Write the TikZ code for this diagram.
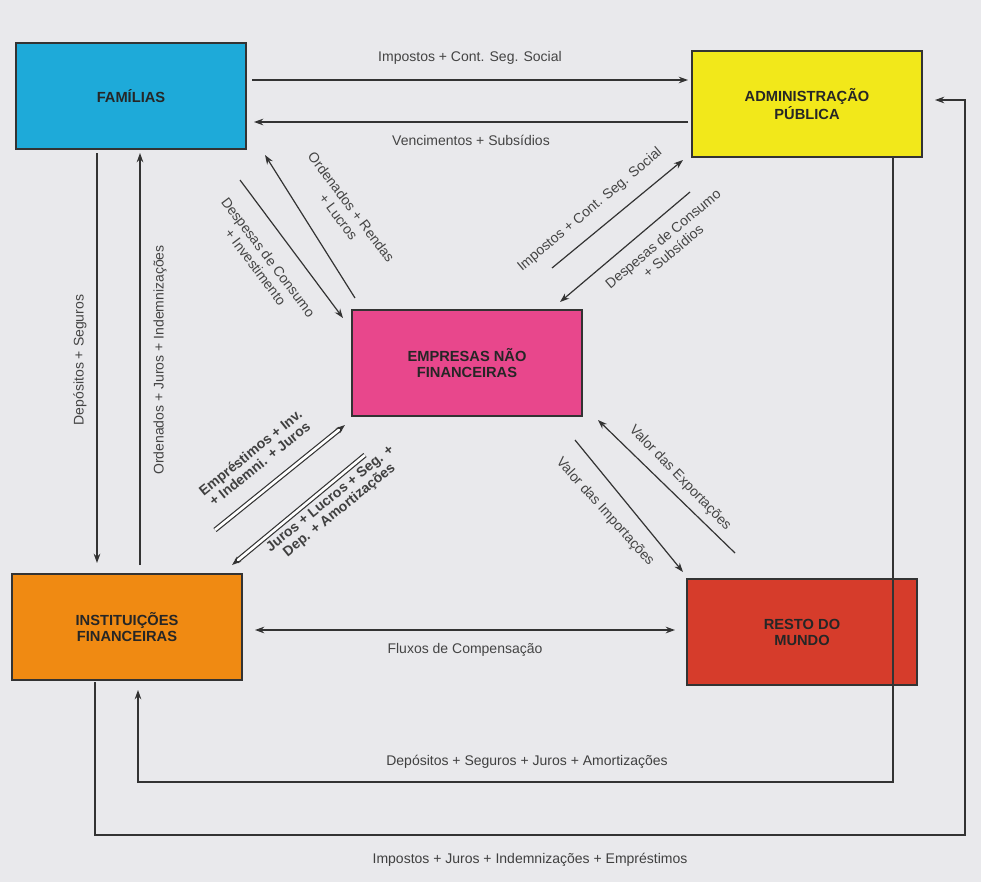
\documentclass[tikz,border=0pt]{standalone}
\usepackage{fontspec}
\setmainfont{Liberation Sans}
\usetikzlibrary{arrows.meta}
\definecolor{bg}{HTML}{E9E9EC}
\definecolor{cfam}{HTML}{1EAAD9}
\definecolor{cap}{HTML}{F2E81A}
\definecolor{cemp}{HTML}{E8478C}
\definecolor{cif}{HTML}{F08A12}
\definecolor{crm}{HTML}{D63C2B}
\definecolor{txt}{HTML}{444444}
\begin{document}
\begin{tikzpicture}[x=0.75pt,y=-0.75pt,
  box/.style={draw=black!80,line width=1.4pt,minimum width=172pt,minimum height=80pt,font=\bfseries\fontsize{11}{12}\selectfont,align=center,text=black!85},
  arr/.style={-{Stealth[length=7pt,width=5pt]},line width=0.9pt,draw=black!80},
  darr/.style={-{Stealth[length=7pt,width=5pt]},line width=0.9pt,draw=black!80,double distance=2pt},
  lab/.style={font=\fontsize{10.5}{12}\selectfont,text=txt,align=center},
  blab/.style={font=\bfseries\fontsize{10.5}{11}\selectfont,text=black!75,align=center}]
\fill[bg] (0,0) rectangle (981,882);
\useasboundingbox (0,0) rectangle (981,882);
\node[box,fill=cfam] (fam) at (131,96) {FAMÍLIAS};
\node[box,fill=cap] (ap) at (807,104) {ADMINISTRAÇÃO\\PÚBLICA};
\node[box,fill=cemp] (emp) at (467,363) {EMPRESAS NÃO\\FINANCEIRAS};
\node[box,fill=cif] (if) at (127,627) {INSTITUIÇÕES\\FINANCEIRAS};
\node[box,fill=crm] (rm) at (802,632) {RESTO DO\\MUNDO};
% top
\coordinate (a1) at (252,80); \coordinate (a2) at (688,80);
\draw[arr] (a1) -- (a2) node[lab,midway,above=8pt] {Impostos + Cont. Seg. Social};
\coordinate (b1) at (688,122); \coordinate (b2) at (254,122);
\draw[arr] (b1) -- (b2) node[lab,midway,below=6pt] {Vencimentos + Subsídios};
% left verticals
\coordinate (c1) at (97,153); \coordinate (c2) at (97,563);
\draw[arr] (c1) -- (c2);
\node[lab,rotate=90] (lc) at (80,360) {Depósitos + Seguros};
\coordinate (d1) at (140,565); \coordinate (d2) at (140,153);
\draw[arr] (d1) -- (d2);
\node[lab,rotate=90] (ld) at (160,360) {Ordenados + Juros + Indemnizações};
% fam - emp
\coordinate (e1) at (240,180); \coordinate (e2) at (343,318);
\draw[arr] (e1) -- (e2);
\node[lab,rotate=-53] (le) at (262,262) {Despesas de Consumo\\+ Investimento};
\coordinate (f1) at (355,298); \coordinate (f2) at (265,155);
\draw[arr] (f1) -- (f2);
\node[lab,rotate=-53] (lf) at (345,212) {Ordenados + Rendas\\+ Lucros};
% ap - emp
\coordinate (g1) at (552,268); \coordinate (g2) at (683,160);
\draw[arr] (g1) -- (g2);
\node[lab,rotate=40] (lg) at (590,210) {Impostos + Cont. Seg. Social};
\coordinate (h1) at (690,192); \coordinate (h2) at (560,302);
\draw[arr] (h1) -- (h2);
\node[lab,rotate=40] (lh) at (668,245) {Despesas de Consumo\\+ Subsídios};
% emp - if
\coordinate (i1) at (215,530); \coordinate (i2) at (345,425);
\draw[darr] (i1) -- (i2);
\node[blab,rotate=39] (li) at (255,458) {Empréstimos + Inv.\\+ Indemni. + Juros};
\coordinate (j1) at (365,455); \coordinate (j2) at (232,565);
\draw[darr] (j1) -- (j2);
\node[blab,rotate=39] (lj) at (335,505) {Juros + Lucros + Seg. +\\Dep. + Amortizações};
% emp - rm
\coordinate (k1) at (735,553); \coordinate (k2) at (598,420);
\draw[arr] (k1) -- (k2);
\node[lab,rotate=-46] (lk) at (680,478) {Valor das Exportações};
\coordinate (l1) at (575,440); \coordinate (l2) at (683,572);
\draw[arr] (l1) -- (l2);
\node[lab,rotate=-48] (ll) at (605,512) {Valor das Importações};
% if - rm
\coordinate (m1) at (255,630); \coordinate (m2) at (675,630);
\draw[arr,{Stealth[length=7pt,width=5pt]}-{Stealth[length=7pt,width=5pt]}] (m1) -- (m2) node[lab,midway,below=6pt] {Fluxos de Compensação};
% outer loops
\coordinate (n1) at (893,158); \coordinate (n2) at (138,690);
\draw[arr] (n1) -- (893,782) -- (138,782) -- (n2);
\node[blab,font=\fontsize{10.5}{12}\selectfont] (ln) at (527,762) {Depósitos + Seguros + Juros + Amortizações};
\coordinate (o1) at (95,682); \coordinate (o2) at (935,100);
\draw[arr] (o1) -- (95,835) -- (965,835) -- (965,100) -- (o2);
\node[blab,font=\fontsize{10.5}{12}\selectfont] (lo) at (530,860) {Impostos + Juros + Indemnizações + Empréstimos};
\end{tikzpicture}
\end{document}
